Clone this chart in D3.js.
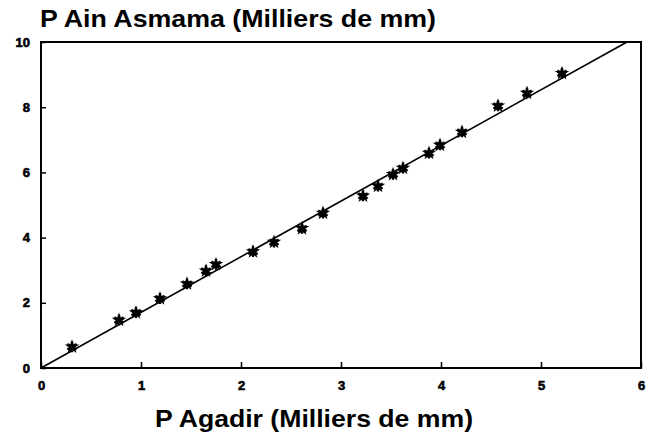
<!DOCTYPE html>
<html lang="fr">
<head>
    <meta charset="UTF-8">
    <title>P Ain Asmama vs P Agadir</title>
    <script src="https://cdn.jsdelivr.net/npm/d3@7"></script>
    <style>
        body { margin: 0; background: #fff; }
        svg { display: block; font-family: "Liberation Sans", Arial, sans-serif; }
    </style>
</head>
<body>
<script>
    // Pluie Agadir (x) et Ain Asmama (y), milliers de mm
    var agadir = [0.31, 0.78, 0.95, 1.19, 1.46, 1.65, 1.75, 2.12, 2.33, 2.61, 2.82,
                  3.22, 3.37, 3.52, 3.62, 3.88, 3.99, 4.21, 4.57, 4.86, 5.21];
    var ainAsmama = [0.65, 1.47, 1.70, 2.13, 2.58, 2.98, 3.18, 3.57, 3.86, 4.28, 4.75,
                     5.28, 5.58, 5.94, 6.13, 6.59, 6.84, 7.24, 8.04, 8.43, 9.04];
    // droite d'ajustement (passe par l'origine)
    var fitLine = [[0, 0], [5.86, 10]];
    var xTicks = [0, 1, 2, 3, 4, 5, 6];
    var yTicks = [0, 2, 4, 6, 8, 10];

    var w = 648, h = 436;
    var svg = d3.select("body").append("svg")
        .attr("width", w)
        .attr("height", h);

    var x = d3.scaleLinear().domain([0, 6]).range([41, 641]);
    var y = d3.scaleLinear().domain([0, 10]).range([368, 42]);

    // cadre
    svg.append("rect")
        .attr("x", x(0)).attr("y", y(10))
        .attr("width", x(6) - x(0)).attr("height", y(0) - y(10))
        .attr("fill", "none").attr("stroke", "#000").attr("stroke-width", 2);

    // axe x : graduations vers l'intérieur
    var xAxis = svg.append("g")
        .attr("transform", "translate(0," + y(0) + ")")
        .call(d3.axisBottom(x).tickValues(xTicks).tickSize(-6).tickPadding(13).tickFormat(d3.format("d")));
    xAxis.select(".domain").remove();
    xAxis.selectAll(".tick line").attr("stroke-width", 1.5);
    xAxis.selectAll("text")
        .attr("font-size", 13).attr("font-weight", "bold").attr("fill", "#000")
        .attr("stroke", "#000").attr("stroke-width", 0.6);

    // axe y : graduations de part et d'autre
    var yAxis = svg.append("g")
        .attr("transform", "translate(" + x(0) + ",0)")
        .call(d3.axisLeft(y).tickValues(yTicks).tickSize(5).tickPadding(6).tickFormat(d3.format("d")));
    yAxis.select(".domain").remove();
    yAxis.selectAll(".tick line").attr("x2", 5).attr("stroke-width", 1.5);
    yAxis.selectAll("text")
        .attr("font-size", 13).attr("font-weight", "bold").attr("fill", "#000")
        .attr("stroke", "#000").attr("stroke-width", 0.6);

    // droite
    svg.append("path")
        .datum(fitLine)
        .attr("d", d3.line().x(function(d) { return x(d[0]); }).y(function(d) { return y(d[1]); }))
        .attr("fill", "none").attr("stroke", "#000").attr("stroke-width", 1.6);

    // points en étoile
    var pts = agadir.map(function(v, i) { return [v, ainAsmama[i]]; });
    var star = d3.symbol().type(d3.symbolStar).size(65);
    var ast = d3.symbol().type(d3.symbolAsterisk).size(80);
    var g = svg.selectAll("g.pt")
        .data(pts)
        .enter().append("g")
        .attr("class", "pt")
        .attr("transform", function(d) { return "translate(" + x(d[0]) + "," + y(d[1]) + ")"; });
    g.append("path").attr("d", star).attr("fill", "#000");
    g.append("path").attr("d", ast).attr("fill", "none").attr("stroke", "#000").attr("stroke-width", 2.4);

    // titres
    svg.append("text")
        .attr("x", 40).attr("y", 27)
        .attr("font-size", 24).attr("font-weight", "bold")
        .attr("textLength", 396).attr("lengthAdjust", "spacingAndGlyphs")
        .text("P Ain Asmama (Milliers de mm)");
    svg.append("text")
        .attr("x", 155).attr("y", 427)
        .attr("font-size", 24).attr("font-weight", "bold")
        .attr("textLength", 318).attr("lengthAdjust", "spacingAndGlyphs")
        .text("P Agadir (Milliers de mm)");
</script>
</body>
</html>
